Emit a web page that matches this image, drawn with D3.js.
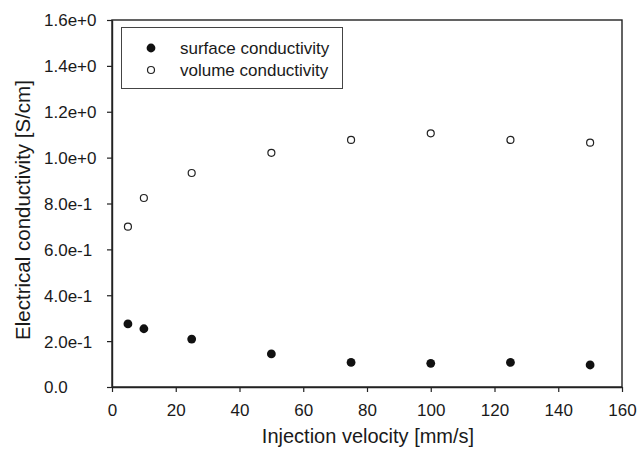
<!DOCTYPE html>
<html>
<head>
<meta charset="utf-8">
<script src="https://cdn.jsdelivr.net/npm/d3@7"></script>
<style>
  body { margin: 0; background: #fff; }
  text { font-family: "Liberation Sans", Arial, sans-serif; fill: #1a1a1a; }
</style>
</head>
<body>
<div id="chart"></div>
<script>
var w = 638, h = 455;
var plotLeft = 112, plotRight = 622, plotTop = 20, plotBottom = 387;

// data
var velocity = [5, 10, 25, 50, 75, 100, 125, 150];
var surface = [0.275, 0.254, 0.209, 0.144, 0.107, 0.103, 0.107, 0.096];
var volume = [0.699, 0.824, 0.933, 1.021, 1.077, 1.106, 1.077, 1.065];

var xTicks = [0, 20, 40, 60, 80, 100, 120, 140, 160];
var yTicks = [0, 0.2, 0.4, 0.6, 0.8, 1.0, 1.2, 1.4, 1.6];
var yTickLabels = ["0.0", "2.0e-1", "4.0e-1", "6.0e-1", "8.0e-1", "1.0e+0", "1.2e+0", "1.4e+0", "1.6e+0"];

var seriesNames = ["surface conductivity", "volume conductivity"];

var xScale = d3.scaleLinear().domain([0, 160]).range([plotLeft, plotRight]);
var yScale = d3.scaleLinear().domain([0, 1.6]).range([plotBottom, plotTop]);

var svg = d3.select("#chart")
  .append("svg")
  .attr("width", w)
  .attr("height", h);

// frame
svg.append("rect")
  .attr("x", plotLeft)
  .attr("y", plotTop)
  .attr("width", plotRight - plotLeft)
  .attr("height", plotBottom - plotTop)
  .attr("fill", "none")
  .attr("stroke", "#222")
  .attr("stroke-width", 1.4);

// X axis
var xAxis = d3.axisBottom(xScale)
  .tickValues(xTicks)
  .tickSizeInner(5)
  .tickSizeOuter(0)
  .tickPadding(12);

var gx = svg.append("g")
  .attr("transform", "translate(0," + plotBottom + ")")
  .call(xAxis);
gx.select(".domain").attr("stroke", "#222").attr("stroke-width", 1.4);
gx.selectAll(".tick line").attr("stroke", "#222").attr("stroke-width", 1.2);
gx.selectAll(".tick text")
  .style("font-size", "17px")
  .attr("fill", "#1a1a1a");

// Y axis, labels left aligned
var yAxis = d3.axisLeft(yScale)
  .tickValues(yTicks)
  .tickSizeInner(5)
  .tickSizeOuter(0)
  .tickFormat(function(d, i) { return yTickLabels[i]; });

var gy = svg.append("g")
  .attr("transform", "translate(" + plotLeft + ",0)")
  .call(yAxis);
gy.select(".domain").attr("stroke", "#222").attr("stroke-width", 1.4);
gy.selectAll(".tick line").attr("stroke", "#222").attr("stroke-width", 1.2);
gy.selectAll(".tick text")
  .attr("text-anchor", "start")
  .attr("x", 44 - plotLeft)
  .attr("dy", "0.35em")
  .style("font-size", "17px")
  .attr("fill", "#1a1a1a");

// axis titles
svg.append("text")
  .attr("x", (plotLeft + plotRight) / 2 + 1)
  .attr("y", 443)
  .attr("text-anchor", "middle")
  .style("font-size", "20px")
  .text("Injection velocity [mm/s]");

svg.append("text")
  .attr("transform", "translate(30,210) rotate(-90)")
  .attr("text-anchor", "middle")
  .style("font-size", "20.5px")
  .text("Electrical conductivity [S/cm]");

// points
svg.selectAll("circle.surface")
  .data(velocity)
  .enter()
  .append("circle")
  .attr("class", "surface")
  .attr("cx", function(d) { return xScale(d); })
  .attr("cy", function(d, i) { return yScale(surface[i]); })
  .attr("r", 4.4)
  .attr("fill", "#111");

svg.selectAll("circle.volume")
  .data(velocity)
  .enter()
  .append("circle")
  .attr("class", "volume")
  .attr("cx", function(d) { return xScale(d); })
  .attr("cy", function(d, i) { return yScale(volume[i]); })
  .attr("r", 3.5)
  .attr("fill", "#fff")
  .attr("stroke", "#222")
  .attr("stroke-width", 1.2);

// legend
var legend = svg.append("g");
legend.append("rect")
  .attr("x", 121.5)
  .attr("y", 27.5)
  .attr("width", 221)
  .attr("height", 61)
  .attr("fill", "#fff")
  .attr("stroke", "#444")
  .attr("stroke-width", 1);

var rows = legend.selectAll("g.row")
  .data(seriesNames)
  .enter()
  .append("g")
  .attr("class", "row")
  .attr("transform", function(d, i) { return "translate(0," + (48 + i * 22) + ")"; });

rows.append("circle")
  .attr("cx", 151)
  .attr("cy", 0)
  .attr("r", function(d, i) { return i === 0 ? 4.4 : 3.5; })
  .attr("fill", function(d, i) { return i === 0 ? "#111" : "#fff"; })
  .attr("stroke", function(d, i) { return i === 0 ? "none" : "#222"; })
  .attr("stroke-width", 1.2);

rows.append("text")
  .attr("x", 180)
  .attr("dy", "0.35em")
  .style("font-size", "17px")
  .text(function(d) { return d; });
</script>
</body>
</html>
